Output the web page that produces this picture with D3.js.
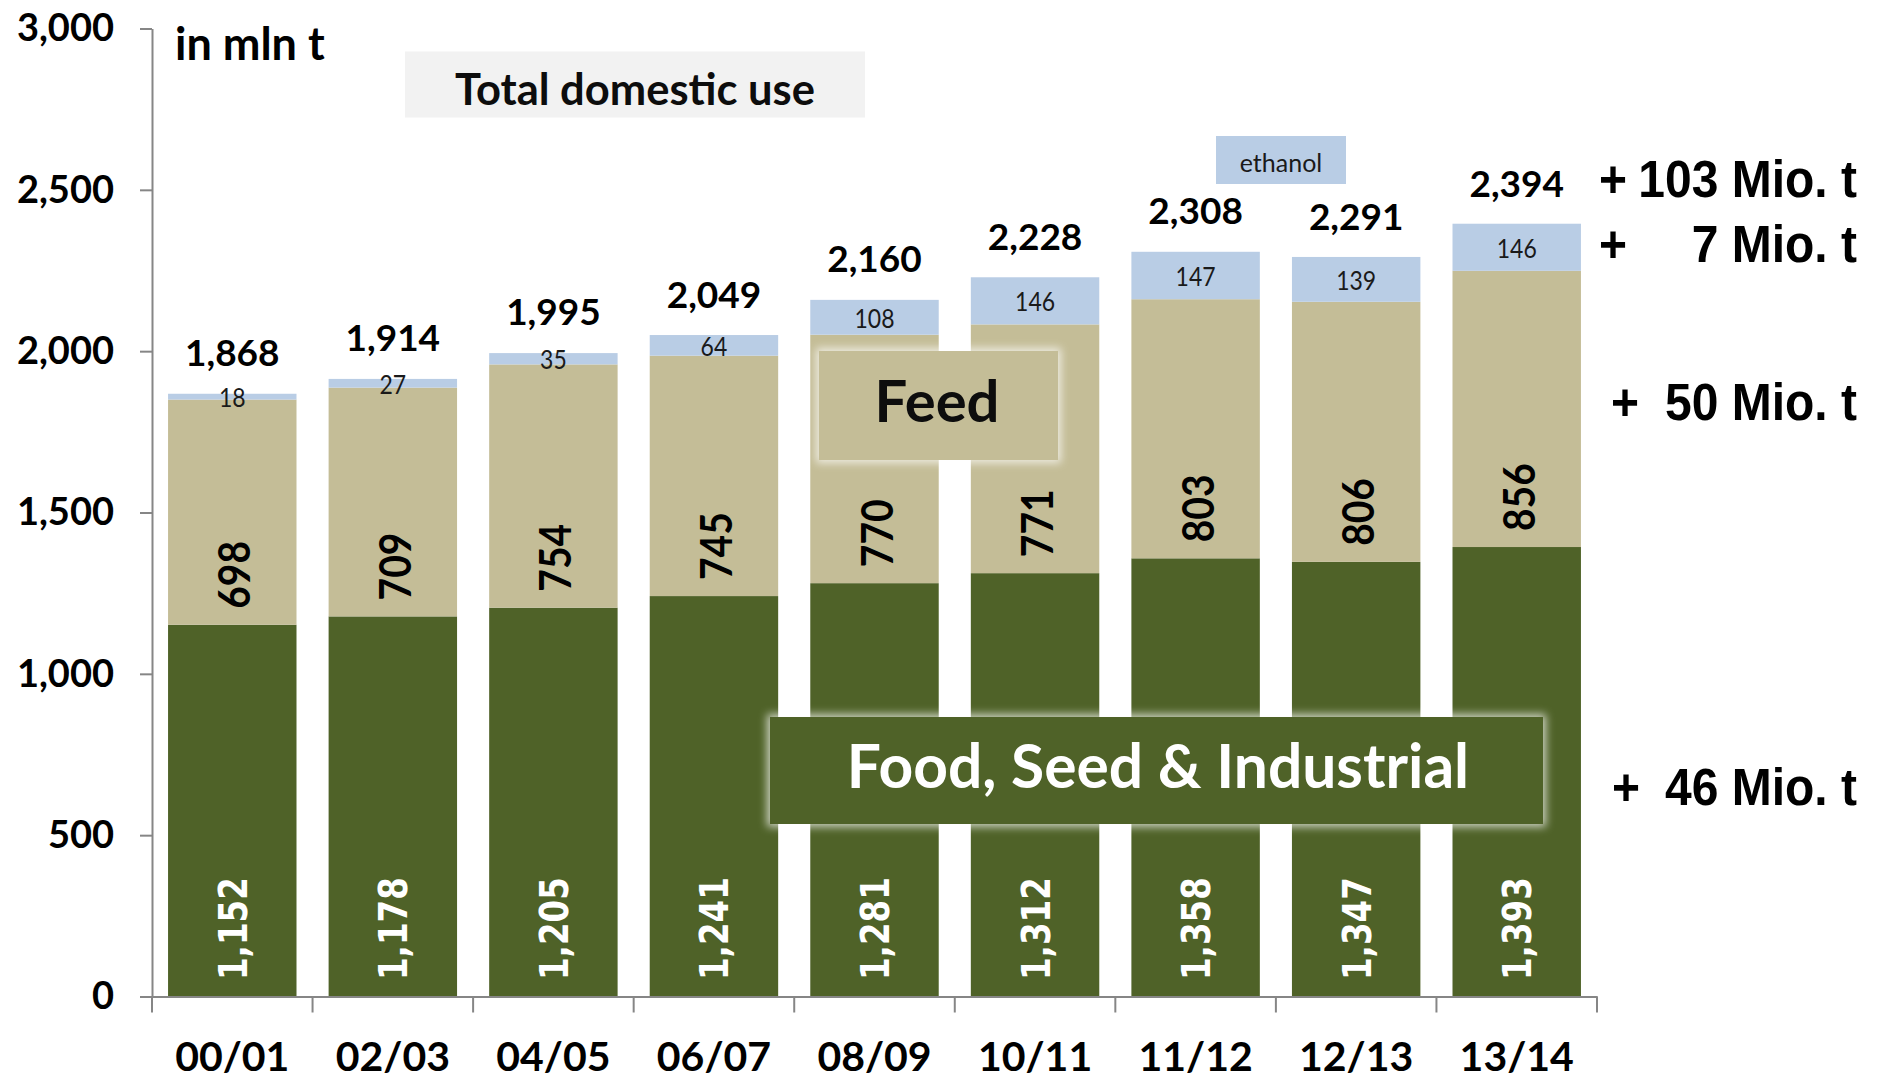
<!DOCTYPE html>
<html>
<head>
<meta charset="utf-8">
<script src="https://cdn.jsdelivr.net/npm/d3@7/dist/d3.min.js"></script>
<style>
  html, body { margin: 0; padding: 0; background: #ffffff; }
  svg { display: block; }
</style>
</head>
<body>
<div id="chart"></div>
<script>
// ---------- DATA ----------
const categories = ["00/01","02/03","04/05","06/07","08/09","10/11","11/12","12/13","13/14"];
const fsiValues     = [1152, 1178, 1205, 1241, 1281, 1312, 1358, 1347, 1393]; // Food, Seed & Industrial
const feedValues    = [698, 709, 754, 745, 770, 771, 803, 806, 856];
const ethanolValues = [18, 27, 35, 64, 108, 146, 147, 139, 146];
const totalValues   = [1868, 1914, 1995, 2049, 2160, 2228, 2308, 2291, 2394];
const yTickValues   = [0, 500, 1000, 1500, 2000, 2500, 3000];
const changeLabels  = ["103 Mio. t", "7 Mio. t", "50 Mio. t", "46 Mio. t"];

// ---------- SETUP ----------
const W = 1878, H = 1080;
const COLORS = { fsi: "#4F6228", feed: "#C4BD97", ethanol: "#B9CDE5", axis: "#868686" };
const FONT = "Lato, 'Open Sans', sans-serif";
const fmt = d3.format(",");

const svg = d3.select("#chart").append("svg").attr("width", W).attr("height", H);

const defs = svg.append("defs");
const glow = defs.append("filter").attr("id", "glow")
  .attr("x", "-20%").attr("y", "-40%").attr("width", "140%").attr("height", "180%");
glow.append("feGaussianBlur").attr("stdDeviation", 4);

const x = d3.scaleBand().domain(categories).range([152, 1597]).paddingInner(0.2).paddingOuter(0.1);
const y = d3.scaleLinear().domain([0, 3000]).range([996.5, 28.5]);

const rows = categories.map((c, i) => ({ cat: c, fsi: fsiValues[i], feed: feedValues[i], ethanol: ethanolValues[i] }));
const keys = ["fsi", "feed", "ethanol"];
const series = d3.stack().keys(keys)(rows);

// ---------- BARS ----------
const barG = svg.append("g");
barG.selectAll("g.series").data(series).join("g")
  .attr("class", "series")
  .attr("fill", d => COLORS[d.key])
  .selectAll("rect").data(d => d).join("rect")
  .attr("x", d => x(d.data.cat))
  .attr("width", x.bandwidth())
  .attr("y", d => y(d[1]))
  .attr("height", d => y(d[0]) - y(d[1]));

// ---------- AXES ----------
const yAxis = d3.axisLeft(y).tickValues(yTickValues).tickSize(12).tickSizeOuter(0)
  .tickPadding(26).tickFormat(fmt);
svg.append("g").attr("transform", "translate(152,0)").call(yAxis)
  .call(g => g.select(".domain").attr("stroke", COLORS.axis).attr("stroke-width", 2))
  .call(g => g.selectAll(".tick line").attr("stroke", COLORS.axis).attr("stroke-width", 2))
  .call(g => g.selectAll(".tick text")
    .attr("font-family", FONT).attr("font-weight", 700).attr("font-size", 38).attr("fill", "#000"));

const xAxis = d3.axisBottom(x).tickSize(0).tickSizeOuter(0);
svg.append("g").attr("transform", `translate(0,${y(0)})`).call(xAxis)
  .call(g => g.select(".domain").attr("stroke", COLORS.axis).attr("stroke-width", 2))
  .call(g => g.selectAll(".tick text")
    .attr("y", 74.5).attr("dy", null)
    .attr("font-family", FONT).attr("font-weight", 700).attr("font-size", 41).attr("fill", "#000"));

// category boundary ticks
const boundaries = d3.range(categories.length + 1).map(i => x.range()[0] + i * x.step());
svg.append("g").selectAll("line").data(boundaries).join("line")
  .attr("x1", d => d).attr("x2", d => d)
  .attr("y1", y(0)).attr("y2", y(0) + 16)
  .attr("stroke", COLORS.axis).attr("stroke-width", 2);

// ---------- VALUE LABELS ----------
const cx = d => x(d.data.cat) + x.bandwidth() / 2;

// FSI labels (rotated, inside base)
const fsiSize = 32.5, fsiSy = 1.22;
svg.append("g").selectAll("text").data(series[0]).join("text")
  .attr("transform", d => `translate(${cx(d) + 14.5},${y(d[0]) - 16.5}) rotate(-90) scale(1,${fsiSy})`)
  .attr("font-family", "'DejaVu Sans', Verdana, sans-serif").attr("font-weight", 700)
  .attr("font-size", fsiSize).attr("fill", "#ffffff")
  .text(d => fmt(d[1] - d[0]));

// Feed labels (rotated, inside base)
const feedSize = 39, feedSy = 1.15;
svg.append("g").selectAll("text").data(series[1]).join("text")
  .attr("transform", d => `translate(${cx(d) + 18},${y(d[0]) - 16}) rotate(-90) scale(1,${feedSy})`)
  .attr("font-family", FONT).attr("font-weight", 700)
  .attr("font-size", feedSize).attr("fill", "#000")
  .text(d => fmt(d[1] - d[0]));

// Ethanol labels (centered)
const ethSize = 23, ethSy = 1.15;
svg.append("g").selectAll("text").data(series[2]).join("text")
  .attr("transform", d => `translate(${cx(d)},${(y(d[0]) + y(d[1])) / 2 + 1 + 0.7165 * ethSize * ethSy / 2}) scale(1,${ethSy})`)
  .attr("text-anchor", "middle")
  .attr("font-family", FONT).attr("font-weight", 400)
  .attr("font-size", ethSize).attr("fill", "#1a1a1a")
  .text(d => fmt(d[1] - d[0]));

// Totals
svg.append("g").selectAll("text").data(totalValues).join("text")
  .attr("x", (d, i) => x(categories[i]) + x.bandwidth() / 2)
  .attr("y", d => y(d) - 27.5)
  .attr("text-anchor", "middle")
  .attr("font-family", FONT).attr("font-weight", 700)
  .attr("font-size", 37).attr("fill", "#000")
  .text(d => fmt(d));

// ---------- ANNOTATIONS ----------
svg.append("text").attr("x", 175).attr("y", 59.5)
  .attr("font-family", FONT).attr("font-weight", 700).attr("font-size", 45).attr("fill", "#000")
  .text("in mln t");

// Total domestic use box
svg.append("rect").attr("x", 405).attr("y", 51.5).attr("width", 460).attr("height", 66).attr("fill", "#F2F2F2");
svg.append("text").attr("x", 635).attr("y", 105)
  .attr("text-anchor", "middle")
  .attr("font-family", FONT).attr("font-weight", 700).attr("font-size", 43.5).attr("fill", "#0d0d0d")
  .text("Total domestic use");

// ethanol legend box
svg.append("rect").attr("x", 1216).attr("y", 136).attr("width", 130).attr("height", 48).attr("fill", COLORS.ethanol);
svg.append("text").attr("x", 1281).attr("y", 172)
  .attr("text-anchor", "middle")
  .attr("font-family", FONT).attr("font-weight", 400).attr("font-size", 25).attr("fill", "#1a1a1a")
  .text("ethanol");

// Feed box with glow
function glowBox(bx, by, bw, bh, fill) {
  svg.append("rect").attr("x", bx - 3).attr("y", by - 3).attr("width", bw + 6).attr("height", bh + 6)
    .attr("fill", "#ffffff").attr("opacity", 0.7).attr("filter", "url(#glow)");
  svg.append("rect").attr("x", bx).attr("y", by).attr("width", bw).attr("height", bh).attr("fill", fill);
}
glowBox(819, 351, 239, 109, COLORS.feed);
svg.append("text").attr("x", 937).attr("y", 421.5)
  .attr("text-anchor", "middle")
  .attr("font-family", FONT).attr("font-weight", 700).attr("font-size", 58).attr("fill", "#0d0d0d")
  .text("Feed");

glowBox(770, 717, 773, 107, COLORS.fsi);
svg.append("text").attr("x", 1158).attr("y", 787.5)
  .attr("text-anchor", "middle")
  .attr("font-family", FONT).attr("font-weight", 700).attr("font-size", 60.5).attr("fill", "#ffffff")
  .text("Food, Seed & Industrial");

// Right-hand change labels
const changePos = [
  { plusX: 1599, base: 196.5 },
  { plusX: 1599, base: 261.5 },
  { plusX: 1611, base: 420 },
  { plusX: 1612, base: 805 }
];
const rightG = svg.append("g")
  .attr("font-family", "'Liberation Sans', Arial, sans-serif").attr("font-weight", 700)
  .attr("font-size", 48).attr("fill", "#000");
changeLabels.forEach((t, i) => {
  const p = changePos[i];
  rightG.append("text").attr("transform", `translate(${p.plusX},${p.base}) scale(1,1.08)`).text("+");
  rightG.append("text").attr("transform", `translate(1857,${p.base}) scale(1,1.08)`)
    .attr("text-anchor", "end").text(t);
});
</script>
</body>
</html>
